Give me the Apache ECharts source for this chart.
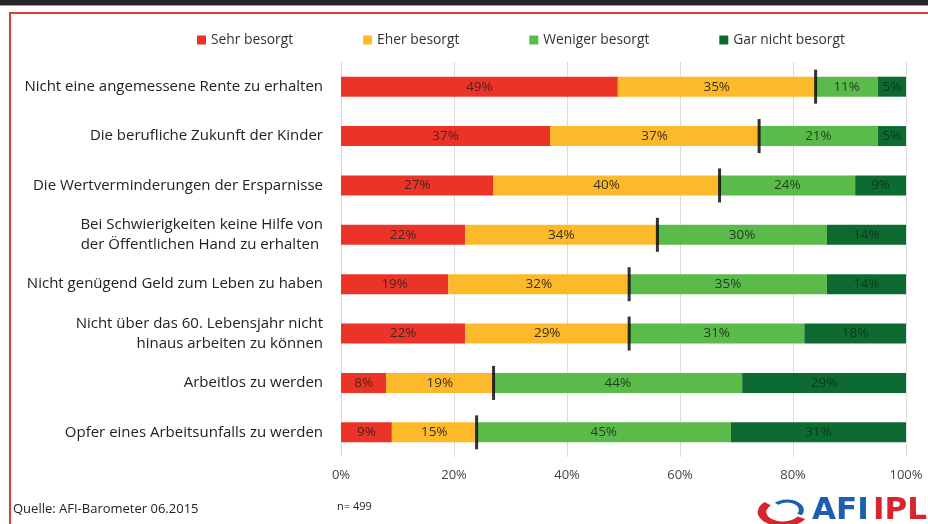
<!DOCTYPE html>
<html>
<head>
<meta charset="utf-8">
<script src="https://cdn.jsdelivr.net/npm/echarts@6/dist/echarts.min.js"></script>
<style>
html, body { margin: 0; padding: 0; background: #fff; }
#main { width: 928px; height: 524px; }
</style>
</head>
<body>
<div id="main"></div>
<script>
var categories = [
    'Nicht eine angemessene Rente zu erhalten',
    'Die berufliche Zukunft der Kinder',
    'Die Wertverminderungen der Ersparnisse',
    'Bei Schwierigkeiten keine Hilfe von\nder Öffentlichen Hand zu erhalten ',
    'Nicht genügend Geld zum Leben zu haben',
    'Nicht über das 60. Lebensjahr nicht\nhinaus arbeiten zu können',
    'Arbeitlos zu werden',
    'Opfer eines Arbeitsunfalls zu werden'
];
var sehr = [49, 37, 27, 22, 19, 22, 8, 9];
var eher = [35, 37, 40, 34, 32, 29, 19, 15];
var weniger = [11, 21, 24, 30, 35, 31, 44, 45];
var garNicht = [5, 5, 9, 14, 14, 18, 29, 31];
var xTicks = [0, 20, 40, 60, 80, 100];

// Trennstrich zwischen "besorgt" und "weniger besorgt"
var marker = [];
for (var i = 0; i < categories.length; i++) {
    marker.push([sehr[i] + eher[i], categories[i]]);
}

var myChart = echarts.init(document.getElementById('main'));
var font = 'Open Sans';

function barSeries(name, data, color, labelColor) {
    return {
        name: name,
        type: 'bar',
        stack: 'total',
        barWidth: 20,
        data: data,
        itemStyle: { color: color },
        label: {
            show: true,
            formatter: '{c}%',
            color: labelColor,
            fontFamily: font,
            fontSize: 13.5
        }
    };
}

var option = {
    backgroundColor: '#fff',
    animation: false,
    textStyle: { fontFamily: font },
    legend: {
        top: 28,
        left: 192,
        itemWidth: 9,
        itemHeight: 9,
        itemGap: 70,
        icon: 'rect',
        textStyle: { fontFamily: font, fontSize: 13.8, color: '#333' },
        data: ['Sehr besorgt', 'Eher besorgt', 'Weniger besorgt', 'Gar nicht besorgt']
    },
    grid: {
        left: 341,
        right: 22,
        top: 62,
        bottom: 67
    },
    xAxis: {
        type: 'value',
        min: 0,
        max: 100,
        interval: 20,
        axisLine: { show: false },
        axisTick: { show: false },
        splitLine: { lineStyle: { color: '#dcdcdc', width: 1 } },
        axisLabel: {
            margin: 12,
            fontSize: 13,
            color: '#444',
            fontFamily: font,
            formatter: function (v) { return xTicks.indexOf(v) >= 0 ? v + '%' : ''; }
        }
    },
    yAxis: {
        type: 'category',
        inverse: true,
        data: categories,
        axisLine: { show: false },
        axisTick: { show: false },
        axisLabel: {
            margin: 18,
            fontSize: 15,
            lineHeight: 20,
            color: '#222',
            fontFamily: font
        }
    },
    series: [
        barSeries('Sehr besorgt', sehr, '#EC3327', '#4a2420'),
        barSeries('Eher besorgt', eher, '#FCBA2B', '#3a3020'),
        barSeries('Weniger besorgt', weniger, '#5BBB4A', '#1f3d1f'),
        barSeries('Gar nicht besorgt', garNicht, '#0D6B32', '#0a3a1a'),
        {
            type: 'scatter',
            data: marker,
            symbol: 'rect',
            symbolSize: [3, 34],
            itemStyle: { color: '#000' },
            z: 10,
            silent: true
        }
    ],
    graphic: [
        { type: 'rect', shape: { x: 0, y: 0, width: 928, height: 5 }, style: { fill: '#262626' } },
        { type: 'rect', shape: { x: 0, y: 5, width: 928, height: 1 }, style: { fill: '#9a9a9a' } },
        { type: 'rect', shape: { x: 9, y: 12, width: 919, height: 2 }, style: { fill: '#d9403c' } },
        { type: 'rect', shape: { x: 9, y: 12, width: 2, height: 512 }, style: { fill: '#d9403c' } },
        {
            type: 'text', left: 13, top: 503,
            style: { text: 'Quelle: AFI-Barometer 06.2015', fontFamily: font, fontSize: 13, fill: '#222' }
        },
        {
            type: 'text', left: 337, top: 501,
            style: { text: 'n= 499', fontFamily: font, fontSize: 11, fill: '#222' }
        },
        // Logo
        {
            type: 'arc', x: 783, y: 512, scaleX: 1.75,
            shape: { cx: 0, cy: 0, r: 12, startAngle: 0.5, endAngle: 3.9 },
            style: { stroke: '#d7262b', lineWidth: 5, fill: null, strokeNoScale: true }
        },
        {
            type: 'arc', x: 787, y: 510, scaleX: 1.6,
            shape: { cx: 0, cy: 0, r: 9, startAngle: 3.9, endAngle: 6.8 },
            style: { stroke: '#1d5fae', lineWidth: 3, fill: null, strokeNoScale: true }
        },
        {
            type: 'text', left: 812, top: 495,
            style: { text: 'AFI', fontFamily: 'DejaVu Sans', fontWeight: 'bold', fontSize: 31, fill: '#1d5fae' }
        },
        {
            type: 'text', left: 873, top: 495,
            style: { text: 'IPL', fontFamily: 'DejaVu Sans', fontWeight: 'bold', fontSize: 31, fill: '#d7262b' }
        }
    ]
};
myChart.setOption(option);
</script>
</body>
</html>
